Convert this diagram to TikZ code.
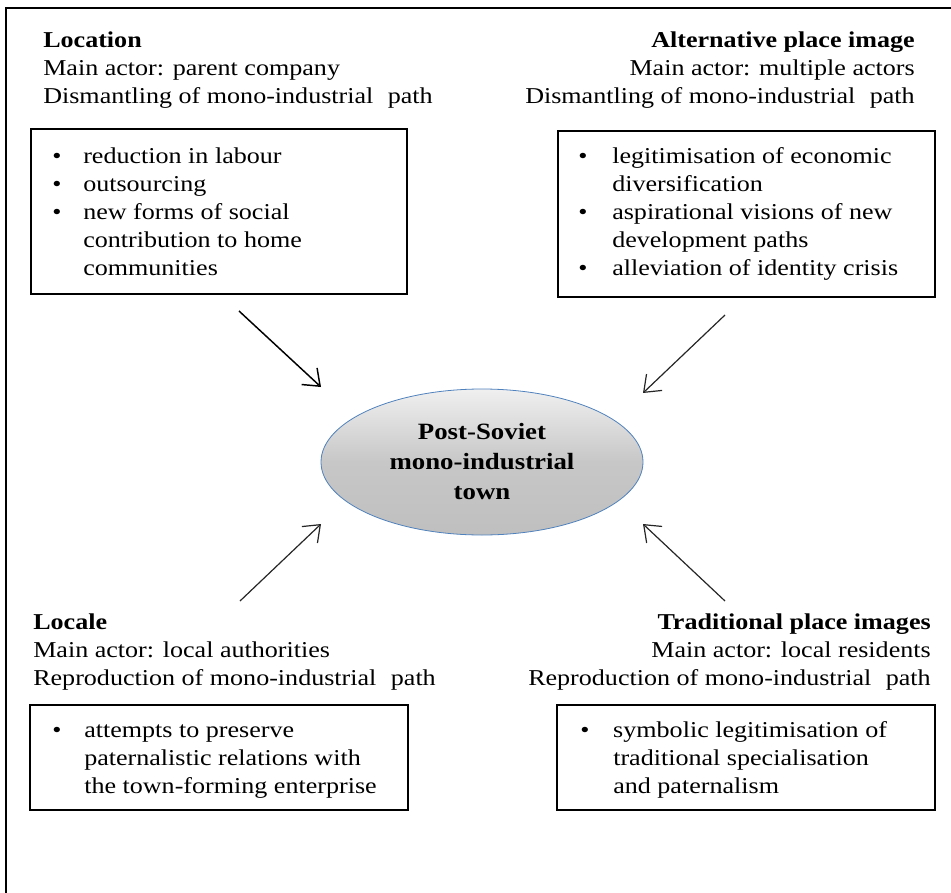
\documentclass[tikz,border=0pt]{standalone}
\usepackage{fontspec}
\setmainfont{Liberation Serif}[FakeStretch=1.15]
\usetikzlibrary{arrows.meta,shapes.geometric}

\definecolor{townedge}{RGB}{79,129,189}

\begin{document}
\begin{tikzpicture}[x=0.75pt,y=-0.75pt]
    \tikzstyle{every node}=[inner sep=0pt]
    \tikzstyle{blocktext}=[font=\fontsize{17}{21}\selectfont]
    \tikzstyle{itembox}=[draw,line width=1.5pt,anchor=north west]
    \tikzstyle{town}=[ellipse,draw=townedge,line width=0.6pt,
                      top color=gray!12,bottom color=gray!50,middle color=gray!44,
                      minimum width=241.5pt,minimum height=109.5pt,align=center,
                      font=\fontsize{17.5}{22.5}\selectfont\bfseries]
    \tikzstyle{pull}=[-{Straight Barb[length=11pt,width=17pt]},line width=0.9pt]

    \useasboundingbox (0,0) rectangle (951,893);

    % Outer frame (only top and left edges show)
    \draw[line width=2.2pt] (6,893) |- (951,8);

    % Centre of the figure
    \node[town] (pst) at (482,462) {Post-Soviet\\mono-industrial\\town};

    % Location, top left
    \node[blocktext,anchor=base west] (location) at (43,47)
        {\begin{tabular}[t]{@{}l@{}}
            \textbf{Location}\\
            Main actor: parent company\\
            Dismantling of mono-industrial\hspace{0.35em} path
         \end{tabular}};
    \node[itembox,minimum width=282pt,minimum height=123.75pt] (locbox) at (30,128) {};
    \node[blocktext,anchor=base west] (locitems) at (52,163)
        {\begin{tabular}[t]{@{}p{23.25pt}@{}l@{}}
            \textbullet & reduction in labour\\
            \textbullet & outsourcing\\
            \textbullet & new forms of social\\
                        & contribution to home\\
                        & communities
         \end{tabular}};

    % Alternative place image, top right
    \node[blocktext,anchor=base east] (altimage) at (915,47)
        {\begin{tabular}[t]{@{}r@{}}
            \textbf{Alternative place image}\\
            Main actor: multiple actors\\
            Dismantling of mono-industrial\hspace{0.35em} path
         \end{tabular}};
    \node[itembox,minimum width=282.75pt,minimum height=124.5pt] (altbox) at (557,130) {};
    \node[blocktext,anchor=base west] (altitems) at (578,163)
        {\begin{tabular}[t]{@{}p{25.5pt}@{}l@{}}
            \textbullet & legitimisation of economic\\
                        & diversification\\
            \textbullet & aspirational visions of new\\
                        & development paths\\
            \textbullet & alleviation of identity crisis
         \end{tabular}};

    % Locale, bottom left
    \node[blocktext,anchor=base west] (locale) at (33,629)
        {\begin{tabular}[t]{@{}l@{}}
            \textbf{Locale}\\
            Main actor: local authorities\\
            Reproduction of mono-industrial\hspace{0.35em} path
         \end{tabular}};
    \node[itembox,minimum width=283.5pt,minimum height=78.75pt] (localebox) at (29,704) {};
    \node[blocktext,anchor=base west] (localeitems) at (52,737)
        {\begin{tabular}[t]{@{}p{24pt}@{}l@{}}
            \textbullet & attempts to preserve\\
                        & paternalistic relations with\\
                        & the town-forming enterprise
         \end{tabular}};

    % Traditional place images, bottom right
    \node[blocktext,anchor=base east] (tradimage) at (931,629)
        {\begin{tabular}[t]{@{}r@{}}
            \textbf{Traditional place images}\\
            Main actor: local residents\\
            Reproduction of mono-industrial\hspace{0.35em} path
         \end{tabular}};
    \node[itembox,minimum width=283.5pt,minimum height=78.75pt] (tradbox) at (556,704) {};
    \node[blocktext,anchor=base west] (traditems) at (580,737)
        {\begin{tabular}[t]{@{}p{24.75pt}@{}l@{}}
            \textbullet & symbolic legitimisation of\\
                        & traditional specialisation\\
                        & and paternalism
         \end{tabular}};

    % Arrows into the town
    \coordinate (nwtail) at (239,311);
    \coordinate (nwtip)  at (321,387);
    \coordinate (netail) at (725,315);
    \coordinate (netip)  at (643,393);
    \coordinate (swtail) at (240,601);
    \coordinate (swtip)  at (321,524);
    \coordinate (setail) at (725,601);
    \coordinate (setip)  at (643,524);
    \draw[pull,line width=1.1pt] (nwtail) -- (nwtip);
    \draw[pull,black!85] (netail) -- (netip);
    \draw[pull,black!85] (swtail) -- (swtip);
    \draw[pull,black!85] (setail) -- (setip);
\end{tikzpicture}
\end{document}
